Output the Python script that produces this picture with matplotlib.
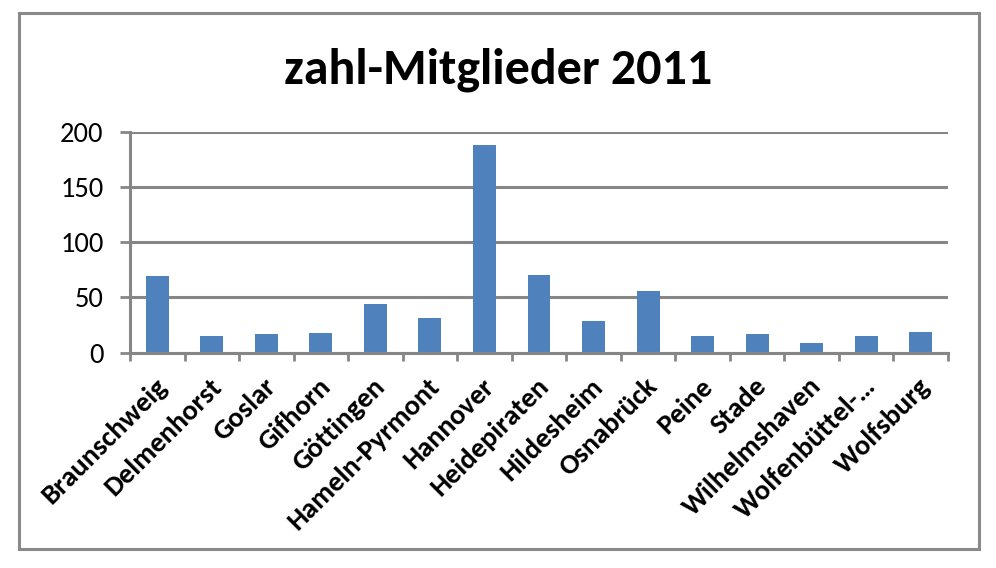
import matplotlib
matplotlib.use('Agg')
import matplotlib.pyplot as plt
import numpy as np
from matplotlib.patches import Rectangle
from matplotlib.transforms import ScaledTranslation

##### Data #####
orte = ['Braunschweig', 'Delmenhorst', 'Goslar', 'Gifhorn', 'Göttingen',
        'Hameln-Pyrmont', 'Hannover', 'Heidepiraten', 'Hildesheim', 'Osnabrück',
        'Peine', 'Stade', 'Wilhelmshaven', 'Wolfenbüttel-…', 'Wolfsburg']
mitglieder = [69, 15, 17, 18, 44, 31, 188, 70, 29, 56, 15, 17, 9, 15, 19]
y_ticks = [0, 50, 100, 150, 200]

grau = '#868686'
blau = '#4F81BD'

plt.rcParams['font.family'] = ['Carlito', 'Lato', 'DejaVu Sans']

fig = plt.figure(figsize=(9.96, 5.68), dpi=100)
ax = fig.add_axes([0.1305, 0.379, 0.8213, 0.389])

x = np.arange(len(orte))
ax.bar(x, mitglieder, width=0.42, color=blau, zorder=3)

ax.set_xlim(-0.5, len(orte) - 0.5)
ax.set_ylim(0, 200)
ax.set_yticks(y_ticks)
ax.yaxis.grid(True, color=grau, linewidth=2.2, zorder=0)
ax.tick_params(axis='y', length=7, width=2, color=grau, pad=12, labelsize=20.5)

# labels in the middle, tick marks between the categories
ax.set_xticks(x)
ax.set_xticklabels(orte, rotation=45, ha='right', rotation_mode='anchor',
                   fontsize=20.5, fontweight='bold')
ax.tick_params(axis='x', which='major', length=0, pad=15)
ax.set_xticks(np.arange(len(orte) + 1) - 0.5, minor=True)
ax.tick_params(axis='x', which='minor', length=6, width=2, color=grau)
shift = ScaledTranslation(-0.03, 0, fig.dpi_scale_trans)
for lbl in ax.get_xticklabels():
    lbl.set_transform(lbl.get_transform() + shift)

for s in ['top', 'right']:
    ax.spines[s].set_visible(False)
for s in ['left', 'bottom']:
    ax.spines[s].set_color(grau)
    ax.spines[s].set_linewidth(2.2)
ax.spines['bottom'].set_zorder(4)

fig.text(0.5, 0.877, 'zahl-Mitglieder 2011', ha='center', va='center',
         fontsize=36, fontweight='bold')

# outer chart frame
fig.patches.append(Rectangle((19/996, 19/568), 960/996, 536/568,
                             transform=fig.transFigure, fill=False,
                             edgecolor='#898989', linewidth=2.2))

fig.savefig('out.png', dpi=100)
